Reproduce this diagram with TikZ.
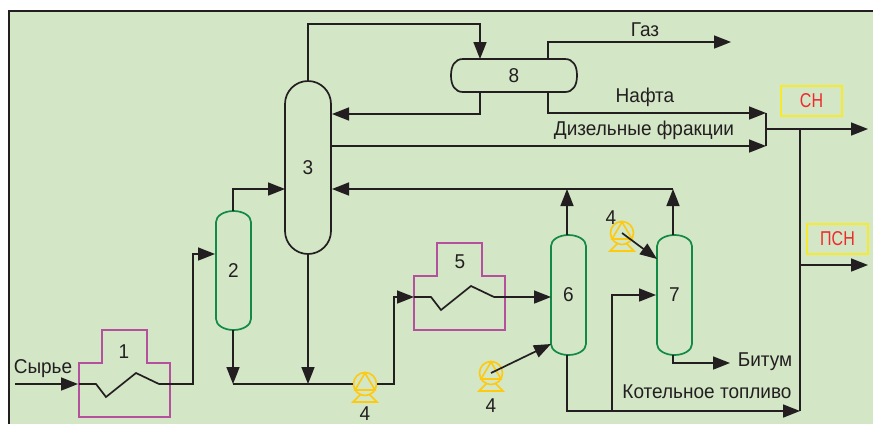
\documentclass[tikz,border=0pt]{standalone}
\usepackage{fontspec}
\setmainfont[FakeStretch=0.95]{Liberation Sans}
\newfontfamily\tagfont[FakeStretch=0.8]{Liberation Sans}
\usetikzlibrary{arrows.meta,calc}
\definecolor{bgreen}{HTML}{D3E6C6}
\definecolor{ink}{HTML}{231F20}
\definecolor{vgreen}{HTML}{128A45}
\definecolor{fpurple}{HTML}{B5509F}
\definecolor{pumpy}{HTML}{FFC90E}
\definecolor{boxy}{HTML}{F7E92B}
\definecolor{labred}{HTML}{EE2A2E}
\tikzset{
  x=1pt,y=-1pt,
  flow/.style={draw=ink,line width=1.7pt,-{Triangle[length=17pt,width=13pt]}},
  pipe/.style={draw=ink,line width=1.7pt},
  vessel/.style={draw=none,inner sep=0pt,outer sep=0pt,text=ink,font=\fontsize{20}{20}\selectfont},
  shell/.style={line width=1.7pt},
  furn/.style={draw=fpurple,line width=1.6pt},
  txt/.style={text=ink,inner sep=0pt,font=\fontsize{20}{20}\selectfont},
  tag/.style={draw=boxy,line width=1.7pt,text=labred,inner sep=0pt,font=\tagfont\fontsize{20}{20}\selectfont},
  pumpline/.style={draw=pumpy,line width=1.6pt}
}
% name, cx, cy, w, h, cap, colour, label
\newcommand{\colvessel}[8]{%
  \node[vessel,minimum width=#4pt,minimum height=#5pt] (#1) at (#2,#3) {#8};
  \draw[shell,draw=#7]
    ($(#1.south west)+(0,-#6)$) -- ($(#1.north west)+(0,#6)$)
    .. controls ($(#1.north west)+(0,#6*0.45)$) and ($(#1.north)+(-#4*0.276,0)$) .. (#1.north)
    .. controls ($(#1.north)+(#4*0.276,0)$) and ($(#1.north east)+(0,#6*0.45)$) .. ($(#1.north east)+(0,#6)$)
    -- ($(#1.south east)+(0,-#6)$)
    .. controls ($(#1.south east)+(0,-#6*0.45)$) and ($(#1.south)+(#4*0.276,0)$) .. (#1.south)
    .. controls ($(#1.south)+(-#4*0.276,0)$) and ($(#1.south west)+(0,-#6*0.45)$) .. ($(#1.south west)+(0,-#6)$) -- cycle;
}
% name, left, top
\newcommand{\furnace}[3]{%
  \begin{scope}[shift={(#2,#3)}]
    \draw[furn] (0,33) -- (23,33) -- (23,0) -- (68,0) -- (68,33) -- (91,33) -- (91,87) -- (0,87) -- cycle;
    \coordinate (#1in) at (0,54);
    \coordinate (#1out) at (91,54);
    \coordinate (#1end) at (80,54);
    \draw[pipe] (#1in) -- (17,54) -- (27,67) -- (57,43) -- (#1end);
  \end{scope}
}
% name, x, y
\newcommand{\pumpunit}[3]{%
  \node[circle,minimum size=23pt,inner sep=0pt,draw=pumpy,line width=1.6pt] (#1) at (#2,#3) {};
  \begin{scope}[shift={(#2,#3)}]
    \draw[pumpline,line join=miter] (0,-11) -- (-10,6) -- (10,6) -- cycle;
    \draw[pumpline] (-4,10) -- (-12,18) -- (12,18) -- (4,10);
  \end{scope}
}
\begin{document}
\begin{tikzpicture}
\useasboundingbox (0,0) rectangle (873,424);
\fill[white] (0,0) rectangle (873,424);
\fill[bgreen] (8,11) rectangle (873,424);
\draw[ink,line width=2pt] (8.5,424) -- (8.5,11) -- (873,11);

% vessels
\colvessel{c2}{233.5}{270.5}{35}{119}{11}{vgreen}{2}
\colvessel{c3}{308}{167.5}{46}{173}{23}{ink}{3}
\colvessel{c6}{568.5}{295}{35}{120}{11}{vgreen}{6}
\colvessel{c7}{674.5}{295}{35}{120}{11}{vgreen}{7}
\node[vessel,minimum width=126pt,minimum height=33pt] (c8) at (514,75.5) {8};
\draw[shell,draw=ink] ($(c8.north west)+(12,0)$) -- ($(c8.north east)+(-12,0)$)
  .. controls ($(c8.north east)+(-4,0)$) and ($(c8.east)+(0,-10)$) .. (c8.east)
  .. controls ($(c8.east)+(0,10)$) and ($(c8.south east)+(-4,0)$) .. ($(c8.south east)+(-12,0)$)
  -- ($(c8.south west)+(12,0)$)
  .. controls ($(c8.south west)+(4,0)$) and ($(c8.west)+(0,10)$) .. (c8.west)
  .. controls ($(c8.west)+(0,-10)$) and ($(c8.north west)+(4,0)$) .. ($(c8.north west)+(12,0)$) -- cycle;

% furnaces
\furnace{fa}{79}{330}
\node[vessel] (fal) at (124,352) {1};
\furnace{fb}{414}{243}
\node[vessel] (fbl) at (460,262) {5};

% pumps
\pumpunit{pa}{365}{384}
\pumpunit{pb}{491}{373}
\pumpunit{pc}{622}{233}

% free ends and junctions
\coordinate (feed) at (15,384);
\coordinate (mix) at (233,384);
\coordinate (mix3) at (308,384);
\coordinate (ret) at (673,189);
\coordinate (ret6) at (567,189);
\coordinate (bar1) at (766,113);
\coordinate (bar2) at (766,146);
\coordinate (barm) at (766,129);
\coordinate (outa) at (868,129);
\coordinate (outb) at (868,265);
\coordinate (juna) at (800,129);
\coordinate (junb) at (800,265);
\coordinate (fuel) at (800,411);
\coordinate (gasend) at (731,42);
\coordinate (bitend) at (730,363);

% connectors
\draw[flow] (feed) -- ($(fain)+(-1,0)$);
\draw[pipe] (fain) -- ($(fain)+(17,0)$);
\draw[flow] (faend) -- (193,384) -- (193,254) -- (215,254);
\draw[flow] (233,211) -- (233,189) -- (285,189);
\draw[flow] (c2.south -| mix) -- (mix);
\draw[flow] (c3.south -| mix3) -- (mix3);
\draw[pipe] (mix) -- (pa.west);
\draw[flow] (pa.east) -- (394,384) -- (394,297) -- (fbin);
\draw[flow] (fbend) -- (551,297);
\draw[flow] (c6.north -| ret6) -- (ret6);
\draw[flow] (c7.north -| ret) -- (ret);
\draw[flow] (ret) -- (332,189);
\draw[flow] (pb.center) -- (551,344);
\draw[flow] (pc.center) -- (657,259);
\draw[flow] (c6.south -| ret6) -- (567,411) -- (fuel);
\draw[flow] (612,411) -- (612,295) -- (656,295);
\draw[flow] (c7.south -| ret) -- (673,363) -- (bitend);
\draw[pipe] (fuel) -- (juna);
\draw[flow] (barm) -- (outa);
\draw[flow] (junb) -- (outb);
\draw[pipe] (bar1) -- (bar2);
\draw[flow] (c3.north) -- (308,24) -- (480,24) -- (480,59);
\draw[flow] (480,92) -- (480,114) -- (332,114);
\draw[flow] (548,59) -- (548,42) -- (gasend);
\draw[flow] (548,92) -- (548,113) -- (bar1);
\draw[flow] (331,146) -- (bar2);

% labels
\node[txt] (t1) at (43,369) {Сырье};
\node[txt] (t2) at (645,30) {Газ};
\node[txt] (t3) at (645,97) {Нафта};
\node[txt] (t4) at (644,130) {Дизельные фракции};
\node[txt] (t5) at (765,362) {Битум};
\node[txt] (t6) at (707,392) {Котельное топливо};
\node[txt] (t7) at (365,414) {4};
\node[txt] (t8) at (491,406) {4};
\node[txt] (t9) at (611,218) {4};
\node[tag,minimum width=61pt,minimum height=30pt] (sn) at (811.5,101) {СН};
\node[tag,minimum width=61pt,minimum height=30pt] (psn) at (837.5,239) {ПСН};
\end{tikzpicture}
\end{document}
